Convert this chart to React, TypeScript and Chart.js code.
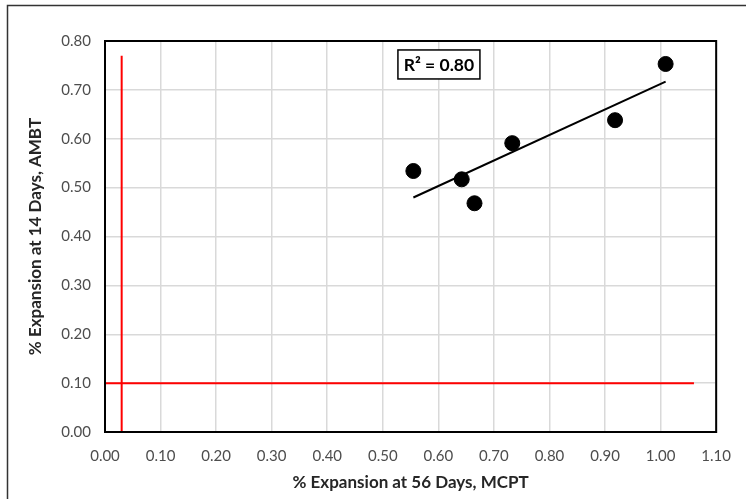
import React, { useEffect, useRef } from "react";
import { Chart, registerables } from "chart.js";

Chart.register(...registerables);

const mcptValues = [0.555, 0.642, 0.665, 0.733, 0.918, 1.009];
const ambtValues = [0.534, 0.517, 0.468, 0.591, 0.638, 0.753];
const mcptLimit = 0.03;
const mcptLimitTop = 0.77;
const ambtLimit = 0.1;
const ambtLimitRight = 1.06;
const xAxisTitle = "% Expansion at 56 Days, MCPT";
const yAxisTitle = "% Expansion at 14 Days, AMBT";
const r2Label = "R² = 0.80";
const r2Anchor = [0.601, 0.752];

const FONT = "Lato, 'Liberation Sans', sans-serif";

function regression(xs: number[], ys: number[]) {
  const n = xs.length;
  const mx = xs.reduce((a, b) => a + b, 0) / n;
  const my = ys.reduce((a, b) => a + b, 0) / n;
  let sxy = 0, sxx = 0;
  for (let i = 0; i < n; i++) {
    sxy += (xs[i] - mx) * (ys[i] - my);
    sxx += (xs[i] - mx) ** 2;
  }
  const slope = sxy / sxx;
  return { slope, intercept: my - slope * mx };
}

export default function App() {
  const ref = useRef<HTMLCanvasElement | null>(null);
  useEffect(() => {
    document.body.style.margin = "0";
    const canvas = ref.current!;
    const { slope, intercept } = regression(mcptValues, ambtValues);
    const xmin = Math.min(...mcptValues);
    const xmax = Math.max(...mcptValues);

    const framePlugin = {
      id: "frame",
      beforeDraw(chart: any) {
        const ctx = chart.ctx;
        ctx.save();
        ctx.fillStyle = "#fff";
        ctx.fillRect(0, 0, chart.width, chart.height);
        ctx.strokeStyle = "#333";
        ctx.lineWidth = 1.5;
        ctx.strokeRect(7.5, 5.5, chart.width + 10, chart.height + 10);
        ctx.restore();
      },
      afterDatasetsDraw(chart: any) {
        const ctx = chart.ctx;
        const a = chart.chartArea;
        ctx.save();
        ctx.strokeStyle = "#000";
        ctx.lineWidth = 2;
        ctx.strokeRect(a.left, a.top, a.right - a.left, a.bottom - a.top);
        // R² box
        const xs = chart.scales.x, ys = chart.scales.y;
        const cx = xs.getPixelForValue(r2Anchor[0]);
        const cy = ys.getPixelForValue(r2Anchor[1]);
        ctx.font = `bold 17.5px ${FONT}`;
        const w = 82, h = 29;
        ctx.fillStyle = "#fff";
        ctx.fillRect(cx - w / 2, cy - h / 2, w, h);
        ctx.lineWidth = 1.5;
        ctx.strokeRect(cx - w / 2, cy - h / 2, w, h);
        ctx.fillStyle = "#000";
        ctx.textAlign = "center";
        ctx.textBaseline = "middle";
        ctx.fillText(r2Label, cx, cy + 1);
        ctx.restore();
      },
    };

    const chart = new Chart(canvas, {
      type: "scatter",
      data: {
        datasets: [
          {
            data: mcptValues.map((x, i) => ({ x, y: ambtValues[i] })),
            backgroundColor: "#000",
            borderColor: "#000",
            pointRadius: 7.5,
            pointHoverRadius: 7.5,
            order: 0,
          },
          {
            data: [
              { x: xmin, y: intercept + slope * xmin },
              { x: xmax, y: intercept + slope * xmax },
            ],
            showLine: true,
            borderColor: "#000",
            borderWidth: 2,
            pointRadius: 0,
            order: 1,
          },
          {
            data: [
              { x: mcptLimit, y: 0 },
              { x: mcptLimit, y: mcptLimitTop },
            ],
            showLine: true,
            borderColor: "#ff0000",
            borderWidth: 2,
            pointRadius: 0,
            order: 2,
          },
          {
            data: [
              { x: 0, y: ambtLimit },
              { x: ambtLimitRight, y: ambtLimit },
            ],
            showLine: true,
            borderColor: "#ff0000",
            borderWidth: 2,
            pointRadius: 0,
            order: 2,
          },
        ],
      },
      options: {
        responsive: false,
        animation: false,
        layout: { padding: { top: 41, right: 26, left: 0, bottom: 0 } },
        plugins: { legend: { display: false }, tooltip: { enabled: false } },
        scales: {
          x: {
            type: "linear",
            min: 0,
            max: 1.1,
            afterFit(scale: any) {
              scale.height = 67;
            },
            ticks: {
              stepSize: 0.1,
              padding: 15,
              color: "#4d4d4d",
              font: { family: FONT, size: 15 },
              callback: (v: any) => Number(v).toFixed(2),
            },
            grid: { color: "#d9d9d9", drawTicks: false, lineWidth: 1.5 },
            border: { display: false },
            title: {
              display: true,
              text: xAxisTitle,
              color: "#262626",
              font: { family: FONT, size: 17, weight: "bold" },
              padding: 6,
            },
          },
          y: {
            type: "linear",
            min: 0,
            max: 0.8,
            afterFit(scale: any) {
              scale.width = 105;
            },
            ticks: {
              stepSize: 0.1,
              padding: 14,
              color: "#4d4d4d",
              font: { family: FONT, size: 15 },
              callback: (v: any) => Number(v).toFixed(2),
            },
            grid: { color: "#d9d9d9", drawTicks: false, lineWidth: 1.5 },
            border: { display: false },
            title: {
              display: true,
              text: yAxisTitle,
              color: "#262626",
              font: { family: FONT, size: 17, weight: "bold" },
              padding: 25,
            },
          },
        },
      },
      plugins: [framePlugin],
    });
    return () => chart.destroy();
  }, []);
  return <canvas ref={ref} width={746} height={499} style={{ display: "block" }} />;
}
